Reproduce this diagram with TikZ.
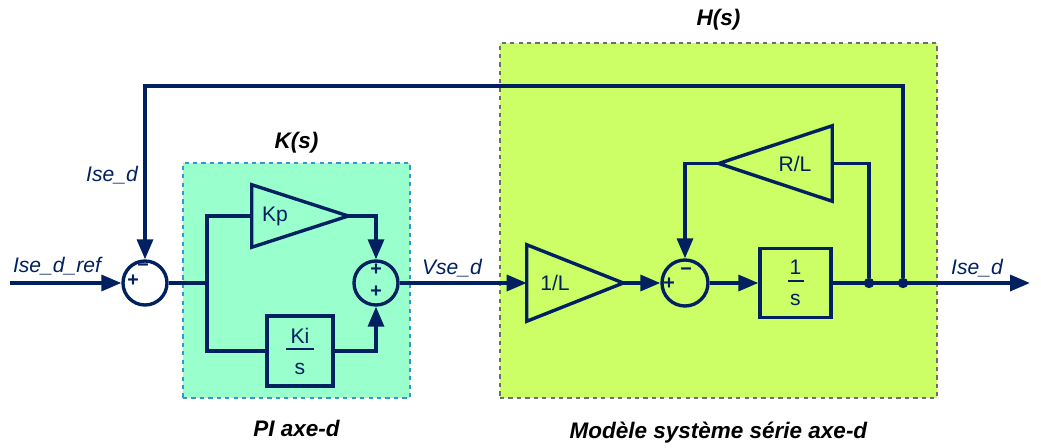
\documentclass[tikz,border=0pt]{standalone}
\usepackage{fontspec}
\setmainfont{Liberation Sans}
\usepackage{xcolor}
\definecolor{wire}{RGB}{0,32,96}
\definecolor{pifill}{RGB}{153,255,204}
\definecolor{piedge}{RGB}{51,153,204}
\definecolor{plantfill}{RGB}{204,255,102}
\definecolor{plantedge}{RGB}{110,110,110}
\usetikzlibrary{arrows.meta,positioning,calc}
\tikzset{
  blk/.style={draw=wire,line width=2.4pt,font=\fontsize{15}{18}\selectfont,%
    text=wire,inner sep=0pt,align=center},
  gain/.style={minimum width=2.4cm,inner sep=0pt,%
    font=\fontsize{15}{18}\selectfont,text=wire},
  tri/.style={draw=wire,line width=2.4pt,line join=miter},
  summer/.style={circle,draw=wire,line width=2.4pt,minimum size=1.1cm,inner sep=0pt},
  sign/.style={font=\bfseries\fontsize{14}{14}\selectfont,text=wire,inner sep=0pt},
  sig/.style={font=\itshape\fontsize{15}{18}\selectfont,text=wire,inner sep=0pt},
  title/.style={font=\bfseries\itshape\fontsize{16}{19}\selectfont,inner sep=0pt},
  frame/.style={dashed,line width=0.8pt},
  link/.style={draw=wire,line width=2.4pt},
  flow/.style={-{Triangle[length=5mm,width=4mm]},draw=wire,line width=2.4pt},
  dot/.style={circle,fill=wire,minimum size=2.6mm,inner sep=0pt},
}

\begin{document}
\begin{tikzpicture}
\useasboundingbox (0,0) rectangle (26.025,-11.2);
% cadres
\node[frame,draw=piedge,fill=pifill,minimum width=5.675cm,minimum height=5.875cm] (kbox) at (7.4125,-7.0125) {};
\node[frame,draw=plantedge,fill=plantfill,minimum width=10.925cm,minimum height=8.875cm] (hbox) at (17.9625,-5.5125) {};
\node[title] (ktitle) at ($(kbox.north)+(0,0.5)$) {K(s)};
\node[title] (htitle) at ($(hbox.north)+(0,0.575)$) {H(s)};
\node[title] (kname) at ($(kbox.south)+(0,-0.75)$) {PI axe-d};
\node[title] (hname) at ($(hbox.south)+(0,-0.85)$) {Modèle système série axe-d};
% blocs
\node[summer] (sum1) at (3.625,-7.075) {};
\node[gain,minimum height=1.55cm] (kp) at (7.5,-5.4) {Kp\hspace*{1.25cm}};
\node[blk,minimum width=1.65cm,minimum height=1.75cm] (ki) at (7.5,-8.775)
  {Ki\\[-13pt]\rule{0.7cm}{1.4pt}\\[-1pt]s};
\node[summer] (sum2) at (9.4,-7.075) {};
\node[gain,minimum height=1.9cm] (invl) at (14.375,-7.075) {1/L\hspace*{1cm}};
\node[summer,minimum size=1.15cm] (sum3) at (17.125,-7.075) {};
\node[blk,minimum width=1.775cm,minimum height=1.725cm] (integ) at (19.8875,-7.075)
  {1\\[-13pt]\rule{0.4cm}{1.4pt}\\[-1pt]s};
\node[gain,minimum width=2.825cm,minimum height=1.875cm] (rl) at (19.3875,-4.0875)
  {\hspace*{0.975cm}R/L};
\foreach \g in {kp,invl}
  \draw[tri] (\g.north west) -- (\g.east) -- (\g.south west) -- cycle;
\draw[tri] (rl.north east) -- (rl.west) -- (rl.south east) -- cycle;
% signes
\node[sign] (s1p) at ($(sum1)+(-0.3,0.05)$) {+};
\node[sign] (s1m) at ($(sum1)+(-0.05,0.375)$) {−};
\node[sign] (s2a) at ($(sum2)+(0,0.325)$) {+};
\node[sign] (s2b) at ($(sum2)+(0,-0.225)$) {+};
\node[sign] (s3p) at ($(sum3)+(-0.4,-0.025)$) {+};
\node[sign] (s3m) at ($(sum3)+(0.025,0.275)$) {−};
% liaisons
\coordinate (in) at (0.25,-7.075);
\coordinate (br) at (5.175,-7.075);
\coordinate (top) at (22.575,-2.15);
\coordinate (out) at (25.75,-7.075);
\draw[flow] (in) -- (sum1);
\draw[link] (sum1) -- (br) |- (kp);
\draw[link] (br) |- (ki);
\draw[flow] (kp) -| (sum2);
\draw[flow] (ki) -| (sum2);
\draw[flow] (sum2) -- (invl);
\draw[flow] (invl) -- (sum3);
\draw[flow] (sum3) -- (integ);
\draw[flow] (integ) -- (out);
\node[dot] (j1) at (21.725,-7.075) {};
\node[dot] (j2) at (22.575,-7.075) {};
\draw[link] (j1) |- (rl);
\draw[flow] (rl) -| (sum3);
\draw[flow] (j2) -- (top) -| (sum1);
% signaux
\node[sig] (lref) at (1.425,-6.65) {Ise\_d\_ref};
\node[sig] (lfb) at (2.8,-4.375) {Ise\_d};
\node[sig] (lv) at (11.3,-6.7) {Vse\_d};
\node[sig] (lout) at (24.425,-6.7) {Ise\_d};
\end{tikzpicture}
\end{document}
